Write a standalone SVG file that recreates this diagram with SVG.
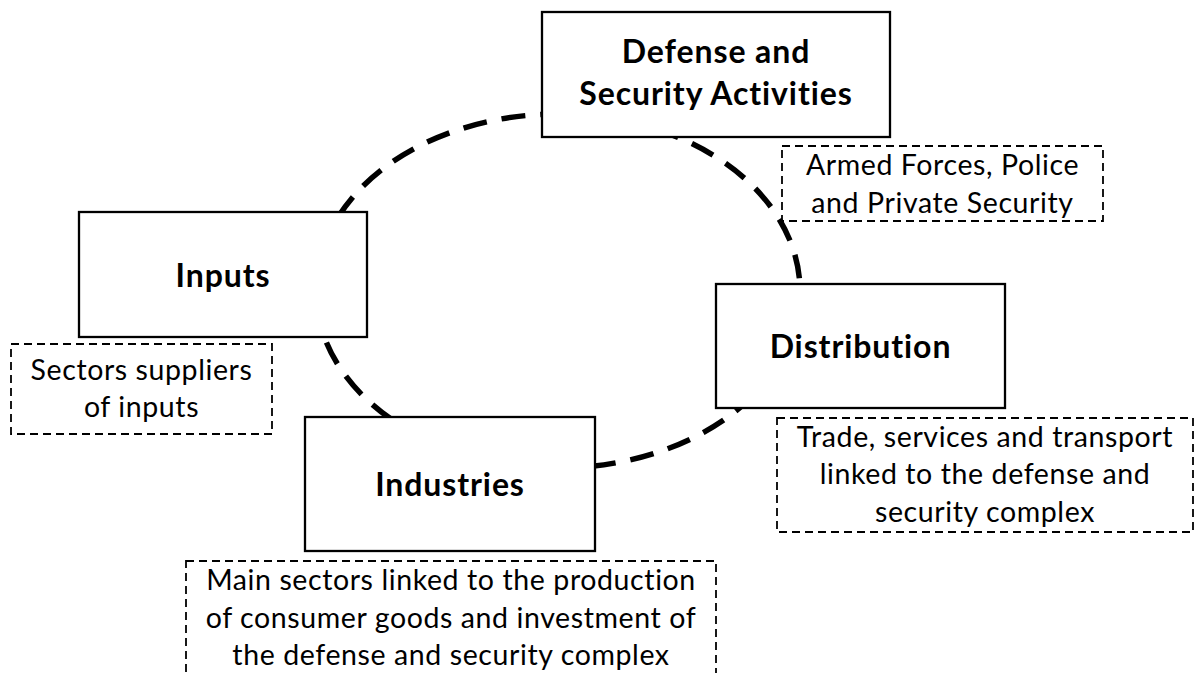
<svg xmlns="http://www.w3.org/2000/svg" width="1195" height="673" viewBox="0 0 1195 673">
<style>
.box{fill:#fff;stroke:#000;stroke-width:2.3}
.note{fill:none;stroke:#000;stroke-width:1.8;stroke-dasharray:8 5}
.title{font-family:Lato,"Open Sans",sans-serif;font-weight:bold;font-size:32px;letter-spacing:0.9px;fill:#000;text-anchor:middle}
.txt{font-family:Lato,"Open Sans",sans-serif;font-size:28.5px;letter-spacing:0.6px;fill:#000;text-anchor:middle}
.cycle{fill:none;stroke:#000;stroke-width:5.5;stroke-dasharray:24 15}
</style>
<rect width="1195" height="673" fill="#fff"/>
<g id="connectors">
<ellipse class="cycle" cx="558" cy="291" rx="242" ry="177"/>
</g>
<g id="defense">
<rect class="box" x="542" y="12" width="348" height="125"/>
<text class="title" x="716" y="63">Defense and</text>
<text class="title" x="716" y="105">Security Activities</text>
</g>
<g id="defense-note">
<rect class="note" x="782" y="146" width="321" height="75"/>
<text class="txt" x="942.5" y="175">Armed Forces, Police</text>
<text class="txt" x="942.5" y="212.5">and Private Security</text>
</g>
<g id="inputs">
<rect class="box" x="79" y="212" width="288" height="125"/>
<text class="title" x="223" y="287">Inputs</text>
</g>
<g id="inputs-note">
<rect class="note" x="11" y="344" width="261" height="90"/>
<text class="txt" x="141.5" y="380">Sectors suppliers</text>
<text class="txt" x="141.5" y="417">of inputs</text>
</g>
<g id="distribution">
<rect class="box" x="716" y="284" width="289" height="124"/>
<text class="title" x="860.5" y="358">Distribution</text>
</g>
<g id="distribution-note">
<rect class="note" x="777" y="418" width="416" height="114"/>
<text class="txt" x="985" y="447">Trade, services and transport</text>
<text class="txt" x="985" y="484">linked to the defense and</text>
<text class="txt" x="985" y="521.5">security complex</text>
</g>
<g id="industries">
<rect class="box" x="305" y="417" width="290" height="134"/>
<text class="title" x="450" y="496">Industries</text>
</g>
<g id="industries-note">
<rect class="note" x="186" y="561" width="530" height="130"/>
<text class="txt" x="451" y="590">Main sectors linked to the production</text>
<text class="txt" x="451" y="627.5">of consumer goods and investment of</text>
<text class="txt" x="451" y="665">the defense and security complex</text>
</g>
</svg>
